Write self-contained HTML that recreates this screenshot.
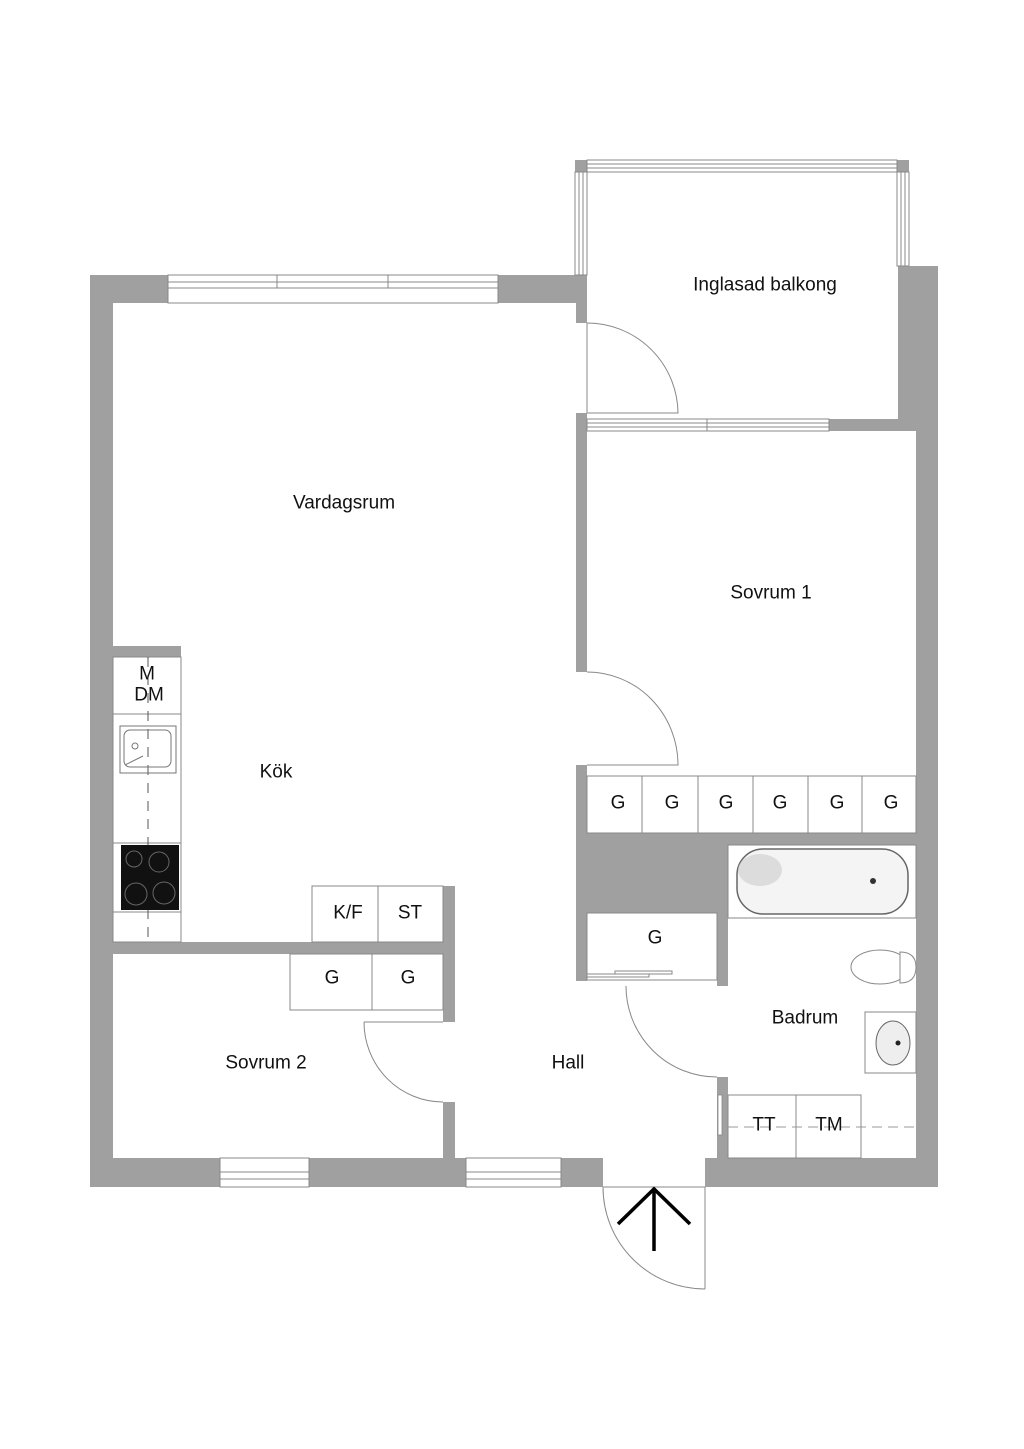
<!DOCTYPE html>
<html><head><meta charset="utf-8"><style>
html,body{margin:0;padding:0;background:#fff;}
svg{display:block;}
text{font-family:"Liberation Sans",sans-serif;fill:#111;text-anchor:middle;dominant-baseline:central;}
</style></head><body>
<svg width="1024" height="1449" viewBox="0 0 1024 1449" xmlns="http://www.w3.org/2000/svg">
<rect width="1024" height="1449" fill="#fff"/>
<g fill="#a0a0a0">
 <!-- left wall -->
 <rect x="90" y="275" width="23" height="912"/>
 <!-- top wall -->
 <rect x="90" y="275" width="78" height="28"/>
 <rect x="498" y="275" width="89" height="28"/>
 <!-- interior wall living / balcony / sovrum1 -->
 <rect x="576" y="275" width="11" height="48"/>
 <rect x="576" y="413" width="11" height="259"/>
 <rect x="576" y="765" width="11" height="216"/>
 <!-- balcony posts -->
 <rect x="575" y="160" width="12" height="12"/>
 <rect x="897" y="160" width="12" height="12"/>
 <!-- right wall -->
 <rect x="898" y="266" width="40" height="165"/>
 <rect x="829" y="419" width="87" height="12"/>
 <rect x="916" y="419" width="22" height="768"/>
 <!-- gray block and bath top strip -->
 <rect x="587" y="833" width="141" height="80"/>
 <rect x="587" y="833" width="329" height="12"/>
 <rect x="717" y="833" width="11" height="153"/>
 <rect x="717" y="1077" width="11" height="110"/>
 <!-- kitchen stub -->
 <rect x="113" y="646" width="68" height="11"/>
 <!-- kitchen/sovrum2 wall -->
 <rect x="113" y="942" width="342" height="12"/>
 <rect x="443" y="886" width="12" height="136"/>
 <rect x="443" y="1102" width="12" height="56"/>
 <!-- bottom wall -->
 <rect x="90" y="1158" width="130" height="29"/>
 <rect x="309" y="1158" width="157" height="29"/>
 <rect x="561" y="1158" width="42" height="29"/>
 <rect x="705" y="1158" width="233" height="29"/>
</g>
<g fill="none" stroke="#888" stroke-width="1">
 <!-- top window -->
 <rect x="168" y="275" width="330" height="28"/>
 <line x1="168" y1="282" x2="498" y2="282"/>
 <line x1="168" y1="288" x2="498" y2="288"/>
 <line x1="277" y1="275" x2="277" y2="288"/>
 <line x1="388" y1="275" x2="388" y2="288"/>
 <!-- balcony glass -->
 <rect x="587" y="160" width="310" height="12"/>
 <line x1="587" y1="164" x2="897" y2="164"/>
 <line x1="587" y1="168" x2="897" y2="168"/>
 <rect x="575" y="172" width="12" height="103"/>
 <line x1="579" y1="172" x2="579" y2="275"/>
 <line x1="583" y1="172" x2="583" y2="275"/>
 <rect x="897" y="172" width="12" height="94"/>
 <line x1="901" y1="172" x2="901" y2="266"/>
 <line x1="905" y1="172" x2="905" y2="266"/>
 <!-- balcony bottom window -->
 <rect x="587" y="419" width="242" height="12"/>
 <line x1="587" y1="423" x2="829" y2="423"/>
 <line x1="587" y1="427" x2="829" y2="427"/>
 <line x1="707" y1="419" x2="707" y2="431"/>
 <!-- balcony door -->
 <line x1="587" y1="323" x2="587" y2="413"/>
 <path d="M587 323 A91 91 0 0 1 678 413 L587 413"/>
 <!-- sovrum1 door -->
 <path d="M587 672 A91 93 0 0 1 678 765 L587 765"/>
 <!-- wardrobes sovrum1 -->
 <rect x="587" y="776" width="329" height="57"/>
 <line x1="642" y1="776" x2="642" y2="833"/>
 <line x1="698" y1="776" x2="698" y2="833"/>
 <line x1="753" y1="776" x2="753" y2="833"/>
 <line x1="808" y1="776" x2="808" y2="833"/>
 <line x1="862" y1="776" x2="862" y2="833"/>
 <!-- bath -->
 <rect x="728" y="845" width="188" height="73"/>
 <!-- G closet -->
 <rect x="587" y="913" width="130" height="67"/>
 <rect x="587" y="974" width="62" height="3"/>
 <rect x="615" y="971" width="57" height="3"/>
 <!-- bathroom door -->
 <path d="M626 986 A91 91 0 0 0 717 1077"/>
 <!-- TT TM -->
 <rect x="728" y="1095" width="133" height="63"/>
 <line x1="796" y1="1095" x2="796" y2="1158"/>
 <line x1="728" y1="1127" x2="916" y2="1127" stroke-dasharray="10,6" stroke="#999"/>
 <!-- sink -->
 <rect x="865" y="1012" width="51" height="61"/>
 <!-- kitchen -->
 <rect x="113" y="657" width="68" height="285"/>
 <line x1="113" y1="714" x2="181" y2="714"/>
 <line x1="113" y1="843" x2="181" y2="843"/>
 <line x1="113" y1="912" x2="181" y2="912"/>
 <line x1="148" y1="657" x2="148" y2="942" stroke-dasharray="10,8" stroke="#555"/>
 <rect x="120" y="726" width="56" height="47" stroke="#777"/>
 <rect x="124" y="730" width="47" height="37" rx="6" stroke="#777"/>
 <rect x="312" y="886" width="131" height="56"/>
 <line x1="378" y1="886" x2="378" y2="942"/>
 <rect x="290" y="954" width="153" height="56"/>
 <line x1="372" y1="954" x2="372" y2="1010"/>
 <!-- sovrum2 door -->
 <path d="M364 1022 L443 1022 M364 1022 A79 80 0 0 0 443 1102"/>
 <!-- bottom windows -->
 <rect x="220" y="1158" width="89" height="29"/>
 <line x1="220" y1="1172" x2="309" y2="1172"/>
 <line x1="220" y1="1179" x2="309" y2="1179"/>
 <rect x="466" y="1158" width="95" height="29"/>
 <line x1="466" y1="1172" x2="561" y2="1172"/>
 <line x1="466" y1="1179" x2="561" y2="1179"/>
 <!-- entrance door -->
 <line x1="603" y1="1187" x2="705" y2="1187"/>
 <line x1="705" y1="1187" x2="705" y2="1289"/>
 <path d="M603 1187 A102 102 0 0 0 705 1289"/>
 <!-- toilet -->
 <ellipse cx="880" cy="967" rx="29" ry="17" fill="#fff"/>
 <path d="M900 952 Q916 952 916 967 Q916 983 900 983 Z" fill="#fff"/>
</g>
<rect x="718" y="1095" width="4" height="40" fill="#fff" stroke="#888" stroke-width="0.8"/>
<!-- bathtub -->
<rect x="737" y="849" width="171" height="65" rx="26" fill="#f4f4f4" stroke="#666" stroke-width="1.5"/>
<ellipse cx="760" cy="870" rx="22" ry="16" fill="#ccc" opacity="0.6"/>
<circle cx="873" cy="881" r="3" fill="#333"/>
<!-- sink bowl -->
<ellipse cx="893" cy="1043" rx="17" ry="22" fill="#eee" stroke="#666"/>
<circle cx="898" cy="1043" r="2.5" fill="#222"/>
<!-- kitchen sink drain -->
<circle cx="135" cy="746" r="3" fill="none" stroke="#777"/>
<line x1="125" y1="765" x2="143" y2="756" stroke="#777"/>
<!-- stove -->
<rect x="121" y="845" width="58" height="65" fill="#111"/>
<g fill="none" stroke="#666" stroke-width="1">
 <circle cx="134" cy="859" r="8"/>
 <circle cx="159" cy="862" r="10"/>
 <circle cx="136" cy="894" r="11"/>
 <circle cx="164" cy="893" r="11"/>
</g>
<!-- arrow -->
<g stroke="#000" stroke-width="3.5" fill="none">
 <line x1="654" y1="1189" x2="654" y2="1251"/>
 <polyline points="618,1224 654,1189 690,1224"/>
</g>
<!-- labels -->
<g font-size="19">
 <text x="765" y="285">Inglasad balkong</text>
 <text x="344" y="503">Vardagsrum</text>
 <text x="771" y="593">Sovrum 1</text>
 <text x="276" y="772">Kök</text>
 <text x="266" y="1063">Sovrum 2</text>
 <text x="568" y="1063">Hall</text>
 <text x="805" y="1018">Badrum</text>
</g>
<g font-size="19">
 <text x="147" y="674">M</text>
 <text x="149" y="695">DM</text>
 <text x="348" y="913">K/F</text>
 <text x="410" y="913">ST</text>
 <text x="332" y="978">G</text>
 <text x="408" y="978">G</text>
 <text x="618" y="803">G</text>
 <text x="672" y="803">G</text>
 <text x="726" y="803">G</text>
 <text x="780" y="803">G</text>
 <text x="837" y="803">G</text>
 <text x="891" y="803">G</text>
 <text x="655" y="938">G</text>
 <text x="764" y="1125">TT</text>
 <text x="829" y="1125">TM</text>
</g>
</svg>
</body></html>
